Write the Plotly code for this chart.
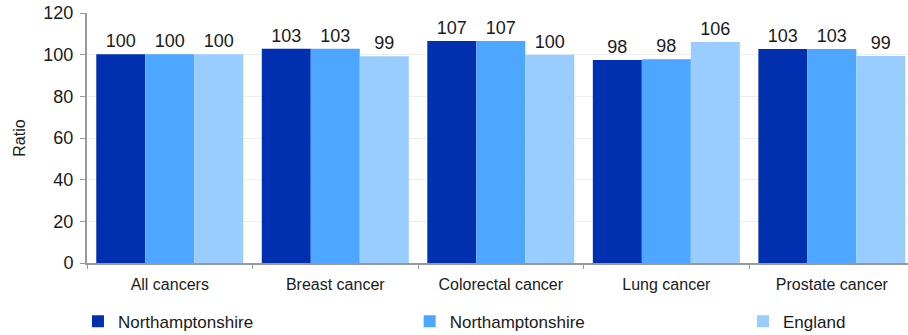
import plotly.graph_objects as go

categories = ["All cancers", "Breast cancer", "Colorectal cancer", "Lung cancer", "Prostate cancer"]
series_names = ["Northamptonshire", "Northamptonshire", "England"]
north_a = [100.2, 102.8, 106.6, 97.5, 102.7]
north_b = [100.2, 102.8, 106.6, 97.8, 102.7]
england = [100.2, 99.2, 100.0, 106.1, 99.4]
colors = ["#0030B0", "#4DA6FF", "#99CCFF"]
y_ticks = [0, 20, 40, 60, 80, 100, 120]

legend_ids = ["legend", "legend2", "legend3"]
legend_x = [-0.011, 0.393, 0.799]

fig = go.Figure()
for name, vals, col, lg in zip(series_names, [north_a, north_b, england], colors, legend_ids):
    fig.add_trace(go.Bar(
        x=categories, y=vals, name=name, marker_color=col, marker_line_width=0,
        text=[f"{v:.0f}" for v in vals], textposition="outside",
        textfont=dict(size=18, color="#1a1a1a"), cliponaxis=False, legend=lg,
    ))

legend_common = dict(orientation="h", y=-0.163, xanchor="left", yanchor="top",
                     font=dict(size=17), bgcolor="rgba(0,0,0,0)")
layout_legends = {lg: dict(x=lx, **legend_common) for lg, lx in zip(legend_ids, legend_x)}

fig.update_layout(
    width=908, height=335,
    margin=dict(l=87, r=0, t=13, b=72, autoexpand=False),
    paper_bgcolor="white", plot_bgcolor="white",
    font=dict(family="Liberation Sans, Arial, sans-serif", color="#1a1a1a"),
    barmode="group", bargap=0.112, bargroupgap=0,
    showlegend=True,
    xaxis=dict(range=[-0.5, 4.46], showline=True, linecolor="#999999", linewidth=2,
               ticks="outside", tickson="boundaries", ticklen=4, tickcolor="#999999",
               tickfont=dict(size=16), showgrid=False, ticklabelstandoff=6),
    yaxis=dict(range=[0, 120], tickvals=y_ticks, showline=True, linecolor="#999999", linewidth=2,
               ticks="outside", ticklen=5, tickcolor="#999999", tickfont=dict(size=18),
               showgrid=True, gridcolor="#EEEEEE", gridwidth=1, zeroline=False,
               ticklabelstandoff=3,
               title=dict(text="Ratio", font=dict(size=16), standoff=14)),
    **layout_legends,
)
fig.write_html("out.html", config={"displayModeBar": False},
               post_script="document.body.style.margin='0';document.body.style.overflow='hidden';")
